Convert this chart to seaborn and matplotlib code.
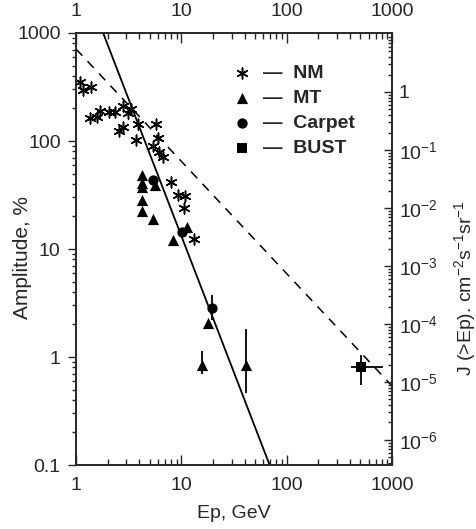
import numpy as np
import matplotlib
matplotlib.use("Agg")
import matplotlib.pyplot as plt
import seaborn as sns
from matplotlib.ticker import FixedLocator, FuncFormatter, LogLocator, NullFormatter

# NM (neutron monitors)
nm_E = [1.09, 1.17, 1.39, 1.36, 1.58, 1.69, 2.06, 2.35, 2.80, 3.13, 3.34, 2.57, 2.80,
        3.89, 3.73, 5.78, 6.04, 5.41, 6.17, 6.74, 8.03, 9.36, 10.9, 10.7, 13.3]
nm_A = [352, 297, 316, 163, 167, 190, 186, 186, 211, 182, 198, 124, 135,
        144, 102, 144, 107, 90, 79, 71, 42, 31.6, 31, 24, 12.4]

# MT (muon telescopes)
mt_E = [4.25, 4.25, 4.25, 4.25, 4.25, 5.65, 5.41, 11.4, 8.39, 18.1, 15.8, 40.7]
mt_A = [48, 41, 37.5, 28.4, 22.5, 39, 19, 16, 12.1, 2.07, 0.84, 0.85]
mt_err_E = [15.8, 40.7]
mt_err_A = [0.84, 0.85]
mt_err_lo = [0.14, 0.39]
mt_err_hi = [0.3, 0.95]

# Carpet
cp_E = [5.41, 10.2, 19.7]
cp_A = [43.5, 14.4, 2.85]
cp_err_lo = [0, 0, 0.65]
cp_err_hi = [0, 0, 0.9]

# BUST
bu_E = [507]
bu_A = [0.81]
bu_xerr = [[100], [313]]
bu_yerr = [[0.26], [0.24]]

# fitted lines
fit_E = [1.81, 68.9]
fit_A = [1000, 0.1]
spec_E = [1, 1000]
spec_A = [711, 0.54]

# right axis (integral flux)
j_ticks = [1, 1e-1, 1e-2, 1e-3, 1e-4, 1e-5, 1e-6]
j_lim = (3.7e-7, 10.4)

sns.set_style("ticks")
plt.rcParams['font.family'] = ['Liberation Sans', 'DejaVu Sans']
plt.rcParams['mathtext.default'] = 'regular'

fig = plt.figure(figsize=(4.77, 5.29), dpi=100)
ax = fig.add_axes([76 / 477, 64 / 529, 316 / 477, 432 / 529])

sns.lineplot(x=fit_E, y=fit_A, ax=ax, color='black', linewidth=1.3)
sns.lineplot(x=spec_E, y=spec_A, ax=ax, color='black', linewidth=1.1, linestyle=(0, (6, 5)))

ax.errorbar(mt_err_E, mt_err_A, yerr=[mt_err_lo, mt_err_hi], fmt='none', ecolor='black', elinewidth=1.3)
ax.errorbar(cp_E, cp_A, yerr=[cp_err_lo, cp_err_hi], fmt='none', ecolor='black', elinewidth=1.3)
ax.errorbar(bu_E, bu_A, xerr=bu_xerr, yerr=bu_yerr, fmt='none', ecolor='black', elinewidth=1.3)

sns.scatterplot(x=nm_E, y=nm_A, ax=ax, marker=(6, 2, 0), color='black', s=60, linewidth=1.1, label='—  NM')
sns.scatterplot(x=mt_E, y=mt_A, ax=ax, marker='^', color='black', s=65, linewidth=0, label='—  MT')
sns.scatterplot(x=cp_E, y=cp_A, ax=ax, marker='o', color='black', s=55, linewidth=0, label='—  Carpet')
sns.scatterplot(x=bu_E, y=bu_A, ax=ax, marker='s', color='black', s=45, linewidth=0, label='—  BUST')

ax.set_xscale('log')
ax.set_yscale('log')
ax.set_xlim(1, 1000)
ax.set_ylim(0.1, 1000)

fmt = FuncFormatter(lambda v, p: '%g' % v)
ax.xaxis.set_major_locator(FixedLocator([1, 10, 100, 1000]))
ax.xaxis.set_major_formatter(fmt)
ax.yaxis.set_major_locator(FixedLocator([0.1, 1, 10, 100, 1000]))
ax.yaxis.set_major_formatter(fmt)
ax.xaxis.set_minor_locator(LogLocator(base=10, subs=np.arange(2, 10)))
ax.yaxis.set_minor_locator(LogLocator(base=10, subs=np.arange(2, 10)))
ax.xaxis.set_minor_formatter(NullFormatter())
ax.yaxis.set_minor_formatter(NullFormatter())

ax.tick_params(axis='x', which='both', top=True, labeltop=True, direction='in', labelsize=14)
ax.tick_params(axis='x', which='major', length=7, width=1, pad=9)
ax.tick_params(axis='x', which='minor', length=4, width=1)
ax.tick_params(axis='y', which='both', direction='out', labelsize=14)
ax.tick_params(axis='y', which='major', length=6, width=1, pad=5)
ax.tick_params(axis='y', which='minor', length=3, width=1)

ax.set_xlabel('Ep, GeV', fontsize=14)
ax.set_ylabel('Amplitude, %', fontsize=15)
ax.xaxis.set_label_coords(0.5, -0.093)
ax.yaxis.set_label_coords(-0.139, 0.48)
for s in ax.spines.values():
    s.set_linewidth(1.2)

ax2 = ax.twinx()
ax2.set_yscale('log')
ax2.set_ylim(*j_lim)
ax2.yaxis.set_major_locator(FixedLocator(j_ticks))
ax2.yaxis.set_major_formatter(FuncFormatter(
    lambda v, p: '1' if abs(v - 1) < 1e-9 else r'10$^{%d}$' % round(np.log10(v))))
ax2.yaxis.set_minor_locator(LogLocator(base=10, subs=np.arange(2, 10)))
ax2.yaxis.set_minor_formatter(NullFormatter())
ax2.tick_params(axis='y', which='both', direction='in', labelsize=14)
ax2.tick_params(axis='y', which='major', length=6, width=1, pad=5)
ax2.tick_params(axis='y', which='minor', length=3, width=1)
ax2.set_ylabel(r'J (>Ep). cm$^{-2}$s$^{-1}$sr$^{-1}$', fontsize=14)
ax2.yaxis.set_label_coords(1.19, 0.41)
for s in ax2.spines.values():
    s.set_linewidth(1.2)

leg = ax.legend(loc='upper left', bbox_to_anchor=(0.47, 0.945), frameon=False,
                prop={'weight': 'bold', 'size': 14}, handletextpad=0.6,
                labelspacing=0.38, borderaxespad=0, handlelength=1.0)

fig.savefig('out.png', dpi=100)
